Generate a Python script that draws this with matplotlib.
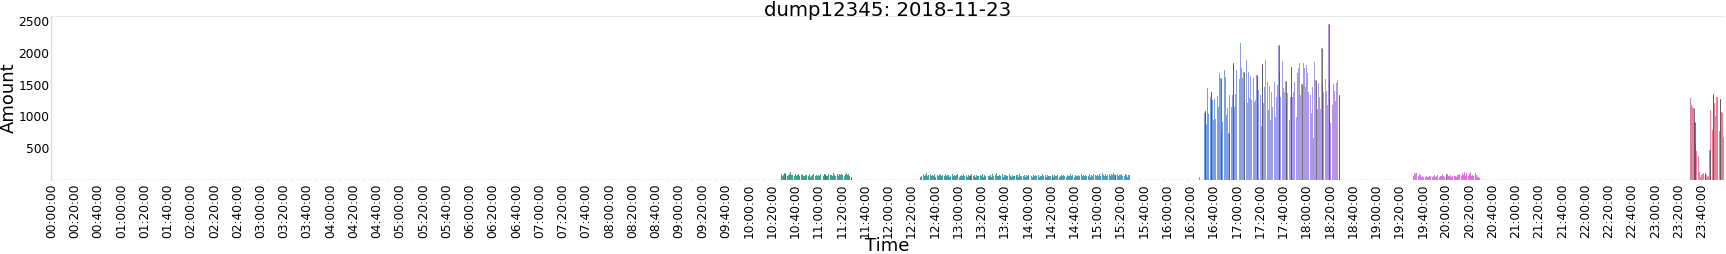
import matplotlib
matplotlib.use("Agg")
import matplotlib.pyplot as plt
import numpy as np
import seaborn as sns

# ---------------- data ----------------
title = "dump12345: 2018-11-23"
n_minutes = 1440

green_start = 628   # 10:28
green = [100,70,85,115,90,65,80,100,125,75,85,70,95,60,75,90,65,80,100,70,
         60,85,75,65,90,55,70,80,95,65,75,60,85,70,100,75,65,90,80,60,
         70,95,75,85,65,110,80,70,95,65,90,75,105,85,70,100,115,80,90,65,
         50]

teal_start = 748    # 12:28
teal = [55,70,95,60,80,110,65,75,90,60,85,70,100,55,80,65,90,75,60,85,
        70,95,60,75,85,55,70,90,65,80,60,75,100,55,70,85,60,90,65,75,
        55,80,70,60,95,65,75,55,85,70,60,80,65,90,55,75,60,85,70,65,
        80,55,95,60,75,110,70,65,85,60,90,55,75,80,60,70,95,65,55,80,
        70,60,85,75,55,90,65,70,60,80,55,75,65,85,60,70,55,80,65,75,
        60,85,55,70,65,90,60,75,55,80,70,60,65,85,55,75,60,70,80,55,
        65,75,60,85,70,55,80,65,60,90,70,75,55,85,65,60,80,70,95,60,
        75,65,85,70,60,90,55,80,65,100,75,60,85,70,90,65,110,80,60,95,
        70,85,105,65,90,75,115,80,70,95,60,85,75,100,65,70,90,80,55,75,
        85]

blue_start = 988    # 16:28
blue = [45,0,0,0,
        1048,1090,881,1440,1038,1310,1388,1257,944,1268,
        954,1320,1142,1675,1597,761,918,1727,1612,1022,
        1127,735,1336,1142,1336,1842,1153,1351,1727,1831,
        1581,2155,1753,1596,1701,1231,1884,1205,1701,1283,
        1633,1257,1596,1231,1257,1649,1633,1414,1336,850,
        1816,1205,1466,1884,1544,1101,1476,944,1388,1153,
        1544,996,1310,1492,2118,1711,1310,1868,1440,1388,
        1555,1205,1372,944,1310,1779,1310,1377,1544,996,
        1675,1753,1842,1336,1508,1831,1753,1466,1805,1675,
        1388,1336,1048,1466,657,1858,1570,1111,1518,1299,
        1111,2066,1492,1388,1581,1404,1180,2447,1560,900,
        1180,1510,1400,1240,1520,1570,1340]

purple_start = 1172  # 19:32
purple = [60,110,95,120,70,100,85,55,65,50,45,60,55,50,65,70,55,60,75,50,
          65,80,55,70,60,90,65,55,75,95,60,70,85,55,65,60,70,50,85,75,
          95,60,110,80,130,70,115,60,90,125,70,85,60,110,75,55,45,35]

pink_start = 1410    # 23:30
pink = [1283,1178,1152,1126,917,567,461,378,133,55,80,97,107,118,80,55,70,
        473,1101,787,1350,1214,1005,1299,1309,776,1267,1074,1058,671]

# confidence-interval lines (minute, low, high)
err_minute = [631,666,688,790,861,915,
              993,998,1006,1013,1017,1026,1037,1042,1056,
              1062,1067,1076,1088,1093,1099,1108,
              1200,
              1413,1414,1423,1427,1430,1436]
err_low = [0]*len(err_minute)
err_high = [115,100,50,85,85,100,
            1090,1388,1597,735,1842,1701,1649,1816,2118,
            1555,1779,1508,1570,2066,2447,1340,
            90,
            1126,917,118,473,1350,1267]

# ---------------- build series ----------------
amount = np.zeros(n_minutes)
for start, vals in [(green_start, green), (teal_start, teal), (blue_start, blue),
                    (purple_start, purple), (pink_start, pink)]:
    amount[start:start + len(vals)] = vals
minutes = np.arange(n_minutes)

pal = sns.husl_palette(n_minutes)
colors = [sns.desaturate(c, 0.75) for c in pal]

# ---------------- figure ----------------
W, H = 1726, 254
fig = plt.figure(figsize=(W / 100, H / 100), dpi=100)
left, right, top, bottom = 51, 1724.3, 16, 180.2
ax = fig.add_axes([left / W, 1 - bottom / H, (right - left) / W, (bottom - top) / H])

ax.bar(minutes, amount, width=0.85, color=colors, linewidth=0, zorder=2)
ax.vlines(err_minute, err_low, err_high, color="#4a4a4a", lw=0.55, zorder=3)

ax.axhline(0, color="#b8b8b8", lw=1.0, ls=(0, (2.5, 1.8)), zorder=1)

ax.set_xlim(-0.5, n_minutes - 0.5)
ax.set_ylim(0, 2574)

tick_pos = np.arange(0, n_minutes, 20)
tick_lab = [f"{m // 60:02d}:{m % 60:02d}:00" for m in tick_pos]
ax.set_xticks(tick_pos)
ax.set_xticklabels(tick_lab, rotation=90, fontsize=8.8)
ax.set_yticks([500, 1000, 1500, 2000, 2500])
ax.set_yticklabels(["500", "1000", "1500", "2000", "2500"], fontsize=8.8)
ax.tick_params(axis="x", length=0, pad=2.2)
ax.tick_params(axis="y", length=0, pad=1.0)

for s in ["right", "bottom"]:
    ax.spines[s].set_visible(False)
ax.spines["top"].set_color("#ebebeb")
ax.spines["left"].set_color("#dcdcdc")
ax.spines["top"].set_linewidth(0.9)
ax.spines["left"].set_linewidth(0.9)

fig.text((left + right) / 2 / W, 1 - 16.5 / H, title, fontsize=14.2,
         ha="center", va="baseline")
fig.text(9 / W, 1 - 98 / H, "Amount", rotation=90, fontsize=13, ha="center", va="center")
fig.text((left + right) / 2 / W, 1 - 246 / H, "Time", fontsize=13, ha="center", va="center")

fig.savefig("out.png", dpi=100)
